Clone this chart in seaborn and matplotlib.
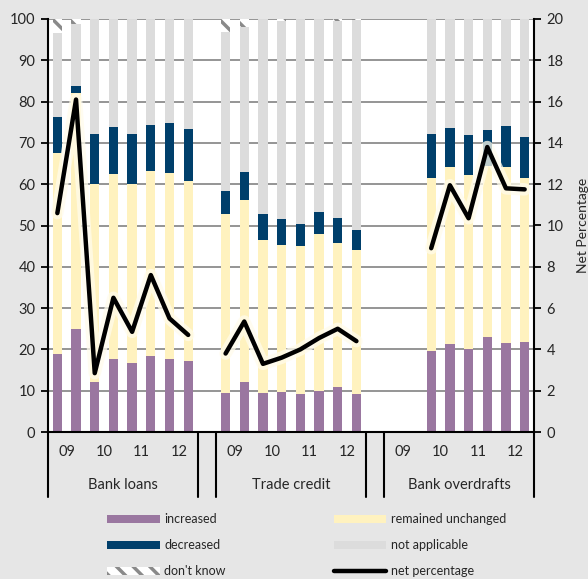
import numpy as np
import pandas as pd
import matplotlib.pyplot as plt
import matplotlib.patheffects as pe
from matplotlib.patches import Patch
from matplotlib.lines import Line2D
import seaborn as sns

# 数据：三类融资，每类 8 个半年期（09-12）
groups = ["Bank loans", "Trade credit", "Bank overdrafts"]
years = ["09", "10", "11", "12"]

increased = {
    "Bank loans": [19.0, 25.0, 12.0, 17.7, 16.8, 18.4, 17.6, 17.3],
    "Trade credit": [9.5, 12.1, 9.4, 9.8, 9.2, 10.0, 10.9, 9.2],
    "Bank overdrafts": [np.nan, np.nan, 19.6, 21.2, 20.1, 23.1, 21.6, 21.8],
}
unchanged = {
    "Bank loans": [48.5, 57.0, 48.0, 44.8, 43.2, 44.8, 45.0, 43.4],
    "Trade credit": [43.3, 44.0, 37.1, 35.5, 35.8, 37.9, 34.9, 34.8],
    "Bank overdrafts": [np.nan, np.nan, 41.8, 43.0, 42.1, 41.4, 42.6, 39.6],
}
decreased = {
    "Bank loans": [8.7, 1.7, 12.2, 11.3, 12.2, 11.1, 12.2, 12.7],
    "Trade credit": [5.6, 6.9, 6.2, 6.3, 5.3, 5.4, 6.1, 4.9],
    "Bank overdrafts": [np.nan, np.nan, 10.7, 9.3, 9.7, 8.7, 10.0, 10.1],
}
dont_know = {
    "Bank loans": [3.4, 1.1, 0, 0, 0, 0, 0, 0],
    "Trade credit": [3.1, 1.9, 0, 0.4, 0, 0, 0.4, 0.3],
    "Bank overdrafts": [np.nan, np.nan, 0, 0, 0, 0, 0, 0],
}
net_pct = {
    "Bank loans": [10.6, 16.1, 2.85, 6.5, 4.85, 7.6, 5.5, 4.7],
    "Trade credit": [3.8, 5.35, 3.3, 3.6, 4.0, 4.55, 5.0, 4.4],
    "Bank overdrafts": [np.nan, np.nan, 8.9, 11.95, 10.35, 13.8, 11.8, 11.75],
}

c_inc = "#9a77a0"
c_unch = "#fff2bf"
c_dec = "#003f6b"
c_na = "#dcdcdc"
c_dk = "#8a8a8a"
bg = "#e6e6e6"

rows = []
for gi, g in enumerate(groups):
    for i in range(8):
        rows.append(dict(group=g, slot=gi * 9 + i,
                         inc=increased[g][i], unch=unchanged[g][i],
                         dec=decreased[g][i], dk=dont_know[g][i],
                         net=net_pct[g][i]))
df = pd.DataFrame(rows)
df["na"] = 100 - df["inc"] - df["unch"] - df["dec"] - df["dk"]
df["c_inc"] = df["inc"]
df["c_unch"] = df["c_inc"] + df["unch"]
df["c_dec"] = df["c_unch"] + df["dec"]
df["c_na"] = df["c_dec"] + df["na"]
df["c_dk"] = df["c_na"] + df["dk"]
bars = df.dropna(subset=["inc"])

sns.set_style("white")
plt.rcParams["font.family"] = ["Lato", "DejaVu Sans"]
plt.rcParams["hatch.linewidth"] = 2.5

fig = plt.figure(figsize=(5.88, 5.79), dpi=100, facecolor=bg)
ax = fig.add_axes([48 / 588, 147 / 579, 486 / 588, 413 / 579])
ax.set_facecolor("white")

layers = [("c_dk", "white"), ("c_na", c_na), ("c_dec", c_dec),
          ("c_unch", c_unch), ("c_inc", c_inc)]
for col, colr in layers:
    sns.barplot(data=bars, x="slot", y=col, native_scale=True, width=0.5,
                color=colr, saturation=1, errorbar=None, linewidth=0, ax=ax)
    if col == "c_dk":
        for p in ax.containers[-1]:
            p.set_hatch("\\\\")
            p.set_edgecolor(c_dk)

ax.set_xlim(-0.5, 25.5)
ax.set_ylim(0, 100)
ax.set_yticks(range(0, 101, 10))
ax.set_xticks([])
ax.set_xlabel("")
ax.set_ylabel("")
ax.set_axisbelow(True)
ax.yaxis.grid(True, color="#8c8c8c", lw=1.3)
ax.tick_params(axis="y", direction="out", length=5, width=1.3, color="black",
               labelsize=10.5, pad=4)
for s in ["top", "right"]:
    ax.spines[s].set_visible(False)
for s in ["left", "bottom"]:
    ax.spines[s].set_color("black")
    ax.spines[s].set_linewidth(1.5)

# 净百分比折线（右轴）
ax2 = ax.twinx()
sns.lineplot(data=df.dropna(subset=["net"]), x="slot", y="net", units="group",
             estimator=None, color="black", linewidth=3.2, sort=False, ax=ax2)
for ln in ax2.lines:
    ln.set_solid_joinstyle("round")
    ln.set_solid_capstyle("round")
    ln.set_path_effects([pe.Stroke(linewidth=9, foreground="#fffcec", alpha=0.75),
                         pe.Normal()])
ax2.set_ylim(0, 20)
ax2.set_yticks(range(0, 21, 2))
ax2.set_xlim(-0.5, 25.5)
ax2.set_xlabel("")
ax2.set_ylabel("Net Percentage", fontsize=10, labelpad=10)
ax2.tick_params(axis="y", direction="out", length=5, width=1.3, color="black",
                labelsize=10.5, pad=4)
for s in ["top", "left", "bottom"]:
    ax2.spines[s].set_visible(False)
ax2.spines["right"].set_color("black")
ax2.spines["right"].set_linewidth(1.5)

# 分类轴：年份与分组标签
trans = ax.get_xaxis_transform()
for xv in [-0.5, 7.5, 8.5, 16.5, 17.5, 25.5]:
    ax.plot([xv, xv], [0, -0.157], transform=trans, color="black", lw=1.5,
            clip_on=False)
for gi, g in enumerate(groups):
    for yi, yr in enumerate(years):
        ax.text(gi * 9 + yi * 2 + 0.5, -0.048, yr, transform=trans,
                ha="center", va="center", fontsize=10.5)
    ax.text(gi * 9 + 3.5, -0.128, g, transform=trans, ha="center",
            va="center", fontsize=10.5)

handles = [
    Patch(facecolor=c_inc, linewidth=0),
    Patch(facecolor=c_dec, linewidth=0),
    Patch(facecolor="white", edgecolor=c_dk, hatch="\\\\", linewidth=0),
    Patch(facecolor=c_unch, linewidth=0),
    Patch(facecolor=c_na, linewidth=0),
    Line2D([], [], color="black", lw=3.2),
]
labels = ["increased", "decreased", "don't know",
          "remained unchanged", "not applicable", "net percentage"]
fig.legend(handles, labels, ncol=2, loc="upper left",
           bbox_to_anchor=(107 / 588, 1 - 513 / 579), frameon=False,
           fontsize=9, handlelength=4.2, handleheight=0.6, handletextpad=0.4,
           borderpad=0, borderaxespad=0, labelspacing=1.12, columnspacing=8.6)

fig.savefig("out.png", dpi=100, facecolor=bg)
